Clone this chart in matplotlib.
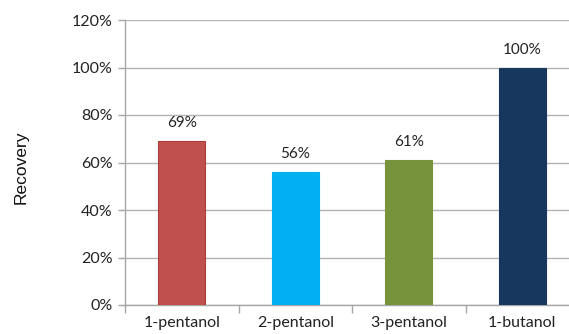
import matplotlib.pyplot as plt
from matplotlib.ticker import PercentFormatter

plt.rcParams['font.family'] = ['Lato', 'DejaVu Sans']

alcohols = ['1-pentanol', '2-pentanol', '3-pentanol', '1-butanol']
recovery = [69, 56, 61, 100]
bar_colors = ['#C0504D', '#00B0F0', '#77933C', '#17375E']
edge_colors = ['#A83E3B', '#00B0F0', '#77933C', '#17375E']

W, H = 569, 334
fig = plt.figure(figsize=(W / 100, H / 100), dpi=100)
# plot area runs past the right edge of the figure, as in the original export
ax = fig.add_axes([125 / W, 29 / H, 454 / W, 285 / H])

x = range(len(alcohols))
bars = ax.bar(x, recovery, width=0.41, color=bar_colors, edgecolor=edge_colors,
              linewidth=0.8, zorder=3)

for b, v in zip(bars, recovery):
    ax.text(b.get_x() + b.get_width() / 2, v + 4.5, f'{v}%', ha='center', va='bottom',
            fontsize=11, color='#222222')

ax.set_xlim(-0.5, 3.5)
ax.set_ylim(0, 120)
ax.set_yticks(range(0, 121, 20))
ax.yaxis.set_major_formatter(PercentFormatter(decimals=0))
ax.set_xticks(x)
ax.set_xticklabels(alcohols)
ax.set_xticks([i + 0.5 for i in range(-1, 4)], minor=True)
ax.tick_params(axis='x', which='major', length=0, pad=8, labelsize=11.5, labelcolor='#222222')
ax.tick_params(axis='x', which='minor', length=6, width=1, color='#A6A6A6')
ax.tick_params(axis='y', length=5, width=1, color='#A6A6A6', pad=4, labelsize=11.5,
               labelcolor='#222222')

ax.yaxis.grid(True, color='#B3B3B3', linewidth=1, zorder=0)
for side in ['top', 'right']:
    ax.spines[side].set_visible(False)
for side in ['left', 'bottom']:
    ax.spines[side].set_color('#A6A6A6')
    ax.spines[side].set_linewidth(1)

fig.text(21 / W, 1 - 167 / H, 'Recovery', rotation=90, ha='center', va='center',
         fontsize=12.5, color='#111111', family=['Liberation Sans', 'DejaVu Sans'])

fig.savefig('out.png', dpi=100)
